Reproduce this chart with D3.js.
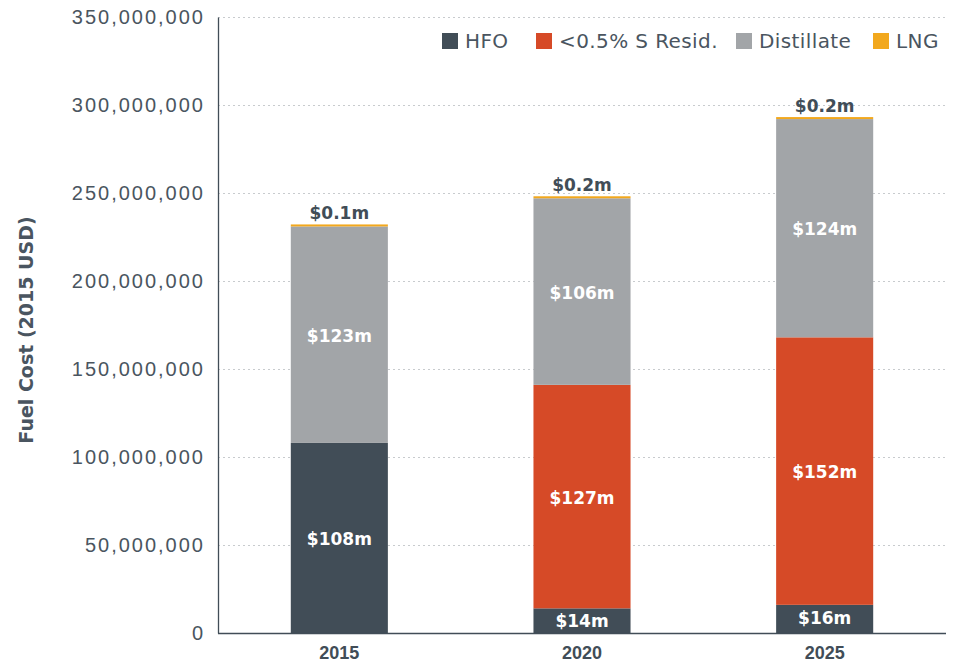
<!DOCTYPE html>
<html>
<head>
<meta charset="utf-8">
<script src="https://cdn.jsdelivr.net/npm/d3@7"></script>
<style>
  body { margin: 0; background: #fff; }
  svg { font-family: "DejaVu Sans", sans-serif; }
</style>
</head>
<body>
<svg id="chart" width="957" height="666"></svg>
<script>
// values in USD (2015)
const years = ["2015", "2020", "2025"];
const series = ["HFO", "<0.5% S Resid.", "Distillate", "LNG"];
const hfo = [108e6, 14e6, 16e6];
const resid = [0, 127e6, 152e6];
const distillate = [123e6, 106e6, 124e6];
const lng = [0.1e6, 0.2e6, 0.2e6];
const colors = ["#414d57", "#d64a27", "#a2a5a8", "#f2a81d"];
const yTicks = [0, 50e6, 100e6, 150e6, 200e6, 250e6, 300e6, 350e6];

const width = 957, height = 666;
const margin = {top: 17, right: 11, bottom: 33, left: 218};

const rows = years.map((yr, i) => ({
  year: yr,
  "HFO": hfo[i],
  "<0.5% S Resid.": resid[i],
  "Distillate": distillate[i],
  "LNG": lng[i]
}));

const stacked = d3.stack().keys(series)(rows);

const x = d3.scaleBand(years, [margin.left, width - margin.right]).paddingInner(0.6).paddingOuter(0.3);
const y = d3.scaleLinear([0, 350e6], [height - margin.bottom, margin.top]);
const color = d3.scaleOrdinal(series, colors);

const svg = d3.select("#chart");

// grid
svg.append("g")
  .selectAll("line")
  .data(yTicks.filter(d => d > 0))
  .join("line")
    .attr("x1", margin.left)
    .attr("x2", width - margin.right)
    .attr("y1", d => y(d) + 0.5)
    .attr("y2", d => y(d) + 0.5)
    .attr("stroke", "#c8cbce")
    .attr("stroke-dasharray", "2,3");

// y axis
const yAxis = svg.append("g")
  .attr("transform", `translate(${margin.left},0)`)
  .call(d3.axisLeft(y).tickValues(yTicks).tickFormat(d3.format(",")).tickSize(0).tickPadding(13));
yAxis.select(".domain").attr("stroke", "#414d57").attr("stroke-width", 1.3);
yAxis.selectAll("text")
  .attr("font-size", 20)
  .attr("letter-spacing", 2)
  .attr("fill", "#4a5560");

// bars
const segs = svg.append("g")
  .selectAll("g")
  .data(stacked)
  .join("g")
    .attr("fill", d => color(d.key));

segs.selectAll("rect")
  .data(d => d.map(v => ({key: d.key, v})))
  .join("rect")
    .attr("x", d => x(d.v.data.year))
    .attr("width", x.bandwidth())
    .attr("y", d => {
      const h = y(d.v[0]) - y(d.v[1]);
      return d.key === "LNG" ? y(d.v[0]) - Math.max(h, 2) : y(d.v[1]);
    })
    .attr("height", d => {
      const h = y(d.v[0]) - y(d.v[1]);
      return d.key === "LNG" ? Math.max(h, 2) : h;
    });

// x axis
const xAxis = svg.append("g")
  .attr("transform", `translate(0,${height - margin.bottom})`)
  .call(d3.axisBottom(x).tickSize(0).tickPadding(13));
xAxis.select(".domain").attr("stroke", "#414d57").attr("stroke-width", 1.3)
  .attr("d", `M${margin.left},0.5H${width - margin.right}`);
xAxis.selectAll("text")
  .attr("font-size", 18)
  .attr("font-weight", 700)
  .attr("fill", "#414d57");

// value labels
const fmt = v => "$" + (v < 1e6 ? (v / 1e6).toFixed(1) : Math.round(v / 1e6)) + "m";
stacked.forEach(s => {
  s.forEach(v => {
    const val = v[1] - v[0];
    if (val <= 0) return;
    const cx = x(v.data.year) + x.bandwidth() / 2;
    if (s.key === "LNG") {
      svg.append("text")
        .attr("x", cx)
        .attr("y", y(v[1]) - 7)
        .attr("text-anchor", "middle")
        .attr("font-size", 17)
        .attr("font-weight", 700)
        .attr("fill", "#414d57")
        .text(fmt(val));
    } else {
      svg.append("text")
        .attr("x", cx)
        .attr("y", s.key === "HFO" && val < 30e6 ? y(v[1]) + 19 : (y(v[0]) + y(v[1])) / 2 + 7)
        .attr("text-anchor", "middle")
        .attr("font-size", 17)
        .attr("font-weight", 700)
        .attr("fill", "#fff")
        .text(fmt(val));
    }
  });
});

// y title
svg.append("text")
  .attr("transform", "translate(33,330) rotate(-90)")
  .attr("text-anchor", "middle")
  .attr("font-size", 19)
  .attr("font-weight", 700)
  .attr("fill", "#4a5560")
  .text("Fuel Cost (2015 USD)");

// legend
const legendX = [442, 536, 736, 873];
const legend = svg.append("g")
  .selectAll("g")
  .data(series)
  .join("g")
    .attr("transform", (d, i) => `translate(${legendX[i]},33)`);
legend.append("rect")
  .attr("width", 16)
  .attr("height", 16)
  .attr("fill", d => color(d));
legend.append("text")
  .attr("x", 23)
  .attr("y", 15)
  .attr("font-size", 20)
  .attr("letter-spacing", 0.4)
  .attr("fill", "#4a5560")
  .text(d => d);
</script>
</body>
</html>
